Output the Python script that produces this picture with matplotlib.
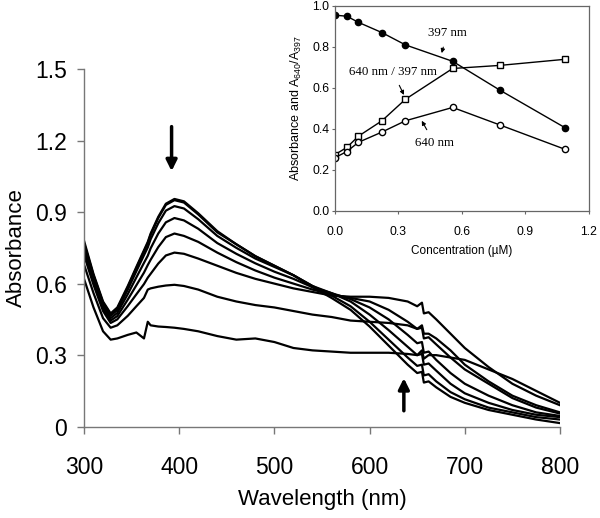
import matplotlib
matplotlib.use('Agg')
import matplotlib.pyplot as plt
from matplotlib.ticker import FormatStrFormatter

plt.rcParams['font.family'] = ['Liberation Sans', 'DejaVu Sans']
plt.rcParams['mathtext.default'] = 'regular'

# spectra (absorbance at each wavelength)
wavelength = [300, 310, 320, 328, 335, 346, 355, 363, 367, 370, 378, 386, 395, 405, 420,
              440, 460, 480, 500, 520, 540, 560, 580, 600, 620, 640, 650, 655, 657, 662,
              670, 685, 700, 725, 750, 775, 800]

spec0 = [0.78, 0.64, 0.525, 0.475, 0.50, 0.59, 0.67, 0.74, 0.775, 0.81, 0.88, 0.935, 0.955, 0.945, 0.895,
         0.82, 0.765, 0.715, 0.675, 0.635, 0.585, 0.54, 0.49, 0.42, 0.34, 0.26, 0.225, 0.23, 0.185, 0.19,
         0.165, 0.125, 0.10, 0.07, 0.05, 0.03, 0.015]
spec1 = [0.77, 0.635, 0.52, 0.47, 0.495, 0.585, 0.665, 0.735, 0.77, 0.805, 0.875, 0.93, 0.95, 0.94, 0.89,
         0.815, 0.765, 0.715, 0.675, 0.635, 0.59, 0.55, 0.505, 0.44, 0.365, 0.29, 0.255, 0.26, 0.215, 0.22,
         0.19, 0.145, 0.115, 0.08, 0.06, 0.04, 0.03]
spec2 = [0.765, 0.63, 0.515, 0.465, 0.489, 0.575, 0.652, 0.719, 0.752, 0.786, 0.853, 0.906, 0.925, 0.915, 0.87,
         0.80, 0.75, 0.705, 0.67, 0.635, 0.59, 0.56, 0.525, 0.47, 0.405, 0.335, 0.30, 0.305, 0.26, 0.265,
         0.235, 0.18, 0.14, 0.10, 0.07, 0.05, 0.04]
spec3 = [0.75, 0.62, 0.505, 0.455, 0.477, 0.556, 0.626, 0.687, 0.717, 0.748, 0.81, 0.857, 0.875, 0.865, 0.83,
         0.77, 0.725, 0.685, 0.65, 0.62, 0.585, 0.56, 0.535, 0.50, 0.45, 0.385, 0.35, 0.355, 0.31, 0.315,
         0.28, 0.225, 0.18, 0.13, 0.09, 0.06, 0.045]
spec4 = [0.74, 0.61, 0.495, 0.445, 0.464, 0.533, 0.593, 0.646, 0.678, 0.70, 0.753, 0.795, 0.81, 0.80, 0.775,
         0.73, 0.69, 0.655, 0.625, 0.60, 0.575, 0.555, 0.54, 0.525, 0.49, 0.44, 0.41, 0.415, 0.37, 0.375,
         0.345, 0.29, 0.24, 0.18, 0.12, 0.08, 0.055]
spec5 = [0.72, 0.595, 0.485, 0.435, 0.45, 0.506, 0.555, 0.598, 0.625, 0.641, 0.684, 0.718, 0.73, 0.725, 0.705,
         0.675, 0.645, 0.62, 0.60, 0.58, 0.565, 0.55, 0.545, 0.545, 0.54, 0.525, 0.505, 0.52, 0.475, 0.48,
         0.45, 0.39, 0.33, 0.25, 0.18, 0.13, 0.09]
spec6 = [0.68, 0.56, 0.455, 0.415, 0.425, 0.465, 0.505, 0.54, 0.575, 0.58, 0.587, 0.592, 0.595, 0.59, 0.575,
         0.545, 0.525, 0.51, 0.50, 0.485, 0.47, 0.46, 0.445, 0.44, 0.435, 0.425, 0.41, 0.425, 0.39, 0.39,
         0.37, 0.32, 0.26, 0.19, 0.13, 0.09, 0.06]
spec7 = [0.62, 0.50, 0.40, 0.365, 0.37, 0.385, 0.395, 0.37, 0.44, 0.425, 0.42, 0.418, 0.415, 0.41, 0.40,
         0.38, 0.365, 0.37, 0.355, 0.33, 0.32, 0.315, 0.31, 0.31, 0.31, 0.305, 0.30, 0.32, 0.285, 0.30,
         0.30, 0.29, 0.28, 0.24, 0.20, 0.15, 0.10]
spectra = [spec0, spec1, spec2, spec3, spec4, spec5, spec6, spec7]

# inset data
conc = [0.0, 0.056, 0.111, 0.222, 0.333, 0.556, 0.778, 1.089]
a397 = [0.955, 0.95, 0.92, 0.87, 0.81, 0.73, 0.59, 0.405]
a640 = [0.26, 0.29, 0.335, 0.385, 0.44, 0.505, 0.42, 0.30]
ratio = [0.275, 0.31, 0.365, 0.44, 0.545, 0.695, 0.71, 0.74]

fig = plt.figure(figsize=(6.0, 5.18), dpi=100)
ax = fig.add_axes([0.14, 0.1763, 0.7933, 0.6905])

for s in spectra:
    ax.plot(wavelength, s, color='black', lw=1.6)

ax.set_xlim(300, 800)
ax.set_ylim(0, 1.5)
ax.set_xticks([300, 400, 500, 600, 700, 800])
ax.set_yticks([0, 0.3, 0.6, 0.9, 1.2, 1.5])
ax.set_yticklabels(['0', '0.3', '0.6', '0.9', '1.2', '1.5'])
for side in ['top', 'right']:
    ax.spines[side].set_visible(False)
for side in ['left', 'bottom']:
    ax.spines[side].set_color('#777777')
    ax.spines[side].set_linewidth(1.0)
ax.tick_params(direction='out', length=5, width=1, color='#777777', labelsize=16.5)
ax.tick_params(axis='y', pad=7)
ax.tick_params(axis='x', pad=16)
ax.set_xlabel('Wavelength (nm)', fontsize=16, labelpad=7)
ax.set_ylabel('Absorbance', fontsize=16, labelpad=6)

ax.annotate('', xy=(392, 1.06), xytext=(392, 1.27),
            arrowprops=dict(arrowstyle='-|>', lw=2.5, color='black', mutation_scale=16))
ax.annotate('', xy=(636, 0.215), xytext=(636, 0.055),
            arrowprops=dict(arrowstyle='-|>', lw=2.5, color='black', mutation_scale=16))

# inset
ins = fig.add_axes([0.5583, 0.5927, 0.4233, 0.3958])
ins.plot(conc, a397, color='black', lw=1, marker='o', ms=4.5, mfc='black', mec='black')
ins.plot(conc, ratio, color='black', lw=1, marker='s', ms=4.5, mfc='white', mec='black')
ins.plot(conc, a640, color='black', lw=1, marker='o', ms=4.5, mfc='white', mec='black')
ins.set_xlim(0, 1.2)
ins.set_ylim(0, 1.0)
ins.set_xticks([0, 0.3, 0.6, 0.9, 1.2])
ins.set_yticks([0, 0.2, 0.4, 0.6, 0.8, 1.0])
ins.xaxis.set_major_formatter(FormatStrFormatter('%.1f'))
ins.yaxis.set_major_formatter(FormatStrFormatter('%.1f'))
for sp in ins.spines.values():
    sp.set_color('#666666')
    sp.set_linewidth(0.9)
ins.tick_params(direction='out', length=2.5, width=0.8, color='#666666', labelsize=8.8)
ins.tick_params(axis='x', pad=8)
ins.tick_params(axis='y', pad=1.5)
ins.set_xlabel('Concentration (\u00b5M)', fontsize=8.5, labelpad=5)
ins.set_ylabel('Absorbance and A$_{640}$/A$_{397}$', fontsize=9, labelpad=6)

serif = ['Liberation Serif', 'DejaVu Serif']
ins.annotate('397 nm', xy=(0.504, 0.77), xytext=(0.53, 0.868), ha='center', va='center',
             fontsize=9.3, family=serif,
             arrowprops=dict(arrowstyle='-|>', lw=0.8, color='black', mutation_scale=6,
                             shrinkA=4, shrinkB=0))
ins.annotate('640 nm / 397 nm', xy=(0.326, 0.566), xytext=(0.272, 0.68), ha='center', va='center',
             fontsize=9.3, family=serif,
             arrowprops=dict(arrowstyle='-|>', lw=0.8, color='black', mutation_scale=6,
                             shrinkA=4, shrinkB=0))
ins.annotate('640 nm', xy=(0.41, 0.44), xytext=(0.47, 0.33), ha='center', va='center',
             fontsize=9.3, family=serif,
             arrowprops=dict(arrowstyle='-|>', lw=0.8, color='black', mutation_scale=6,
                             shrinkA=4, shrinkB=0))

fig.savefig('out.png', dpi=100)
